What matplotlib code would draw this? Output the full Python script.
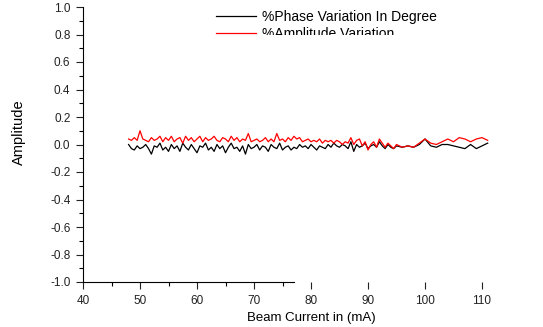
import matplotlib
matplotlib.use('Agg')
import matplotlib.pyplot as plt
from matplotlib.patches import Rectangle

plt.rcParams['font.family'] = ['Liberation Sans', 'DejaVu Sans']
plt.rcParams['axes.unicode_minus'] = False

# beam current (mA): dense sweep 48-95, then coarser steps to 111
current = [48.0, 48.5, 49.0, 49.5, 50.0, 50.5, 51.0, 51.5, 52.0, 52.5,
           53.0, 53.5, 54.0, 54.5, 55.0, 55.5, 56.0, 56.5, 57.0, 57.5,
           58.0, 58.5, 59.0, 59.5, 60.0, 60.5, 61.0, 61.5, 62.0, 62.5,
           63.0, 63.5, 64.0, 64.5, 65.0, 65.5, 66.0, 66.5, 67.0, 67.5,
           68.0, 68.5, 69.0, 69.5, 70.0, 70.5, 71.0, 71.5, 72.0, 72.5,
           73.0, 73.5, 74.0, 74.5, 75.0, 75.5, 76.0, 76.5, 77.0, 77.5,
           78.0, 78.5, 79.0, 79.5, 80.0, 80.5, 81.0, 81.5, 82.0, 82.5,
           83.0, 83.5, 84.0, 84.5, 85.0, 85.5, 86.0, 86.5, 87.0, 87.5,
           88.0, 88.5, 89.0, 89.5, 90.0, 90.5, 91.0, 91.5, 92.0, 92.5,
           93.0, 93.5, 94.0, 94.5, 95.0,
           96, 97, 98, 99, 100, 101, 102, 103, 104, 105, 106, 107, 108, 109, 110, 111]

phase = [0.00, -0.03, -0.04, -0.01, -0.03, -0.02, 0.00, -0.03, -0.07, -0.01,
         -0.02, 0.01, -0.04, -0.02, -0.05, 0.00, -0.03, -0.01, -0.05, 0.01,
         -0.02, -0.04, 0.00, -0.03, -0.06, -0.01, -0.02, 0.01, -0.04, -0.02,
         -0.05, 0.00, -0.03, -0.01, -0.06, -0.02, 0.01, -0.03, -0.02, -0.05,
         -0.01, -0.07, 0.00, -0.03, -0.02, 0.00, -0.04, -0.01, -0.02, -0.05,
         0.00, -0.02, -0.03, 0.01, -0.04, -0.02, -0.01, -0.04, -0.02, -0.03,
         0.00, -0.02, -0.01, -0.03, 0.00, -0.02, -0.04, -0.01, -0.02, -0.03,
         0.00, -0.02, 0.01, -0.01, -0.02, 0.00, -0.01, -0.03, 0.02, -0.05,
         0.00, -0.02, -0.01, 0.01, -0.03, -0.01, 0.00, -0.02, 0.02, -0.01,
         -0.03, 0.00, -0.02, -0.03, -0.01,
         -0.02, -0.01, -0.02, 0.00, 0.04, -0.01, -0.02, 0.00, 0.00, -0.01,
         -0.02, -0.03, 0.00, -0.03, -0.01, 0.01]

amplitude = [0.04, 0.03, 0.05, 0.03, 0.10, 0.04, 0.03, 0.02, 0.05, 0.03,
             0.04, 0.06, 0.02, 0.05, 0.03, 0.06, 0.02, 0.04, 0.05, 0.01,
             0.06, 0.03, 0.05, 0.02, 0.04, 0.06, 0.02, 0.05, 0.03, 0.04,
             0.06, 0.03, 0.02, 0.05, 0.04, 0.02, 0.06, 0.03, 0.05, 0.02,
             0.04, 0.03, 0.08, 0.02, 0.03, 0.04, 0.02, 0.03, 0.05, 0.02,
             0.04, 0.02, 0.08, 0.03, 0.04, 0.02, 0.05, 0.03, 0.06, 0.04,
             0.05, 0.02, 0.03, 0.04, 0.02, 0.03, 0.02, 0.04, 0.01, 0.03,
             0.02, 0.03, 0.01, 0.03, 0.02, 0.00, 0.02, 0.01, 0.05, 0.00,
             0.03, 0.04, -0.01, 0.02, -0.04, 0.00, 0.02, -0.02, 0.04, 0.01,
             -0.02, 0.01, -0.01, -0.03, 0.00,
             -0.02, -0.01, -0.02, 0.01, 0.04, 0.01, 0.00, 0.02, 0.04, 0.02,
             0.05, 0.04, 0.02, 0.04, 0.05, 0.03]

major_x = [40, 50, 60, 70, 80, 90, 100, 110]
minor_x = [45, 55, 65, 75]
y_ticks = [-1.0, -0.8, -0.6, -0.4, -0.2, 0.0, 0.2, 0.4, 0.6, 0.8, 1.0]

W, H = 543, 327
fig = plt.figure(figsize=(W / 100, H / 100), dpi=100)
ax = fig.add_axes([83 / W, 1 - 282 / H, (539 - 83) / W, (282 - 7) / H])

ax.plot(current, phase, color='black', lw=0.9, label='%Phase Variation In Degree')
ax.plot(current, amplitude, color='red', lw=0.9, label='%Amplitude Variation')

ax.set_xlim(40, 120)
ax.set_ylim(-1.0, 1.0)
ax.set_yticks(y_ticks)
ax.set_yticklabels(['%.1f' % v for v in y_ticks])
ax.set_yticks([v / 10 for v in range(-9, 10, 2)], minor=True)
ax.set_xticks(major_x)
ax.set_xticks(minor_x, minor=True)

for s in ['top', 'right']:
    ax.spines[s].set_visible(False)
ax.spines['bottom'].set_bounds(40, 77)
ax.spines['left'].set_linewidth(0.8)
ax.spines['bottom'].set_linewidth(0.8)

ax.tick_params(axis='both', which='major', direction='out', length=5, width=0.8,
               labelsize=8.5, pad=4, colors='#222222')
ax.tick_params(axis='both', which='minor', direction='out', length=3, width=0.8)
for t in ax.xaxis.get_major_ticks():
    if t.get_loc() > 80:
        t.tick1line.set_visible(False)

ax.set_xlabel('Beam Current in (mA)', fontsize=9.5, labelpad=4)
fig.text(19 / W, 1 - 132 / H, 'Amplitude', rotation=90, fontsize=10.5,
         ha='center', va='center')

ax.legend(loc='upper left', bbox_to_anchor=(216 / W, 1 - 10 / H),
          bbox_transform=fig.transFigure, frameon=False, fontsize=10,
          handlelength=2.9, handletextpad=0.4, labelspacing=0.2,
          borderpad=0, borderaxespad=0)

# lower half of the second legend entry is masked in the original
fig.add_artist(Rectangle((258 / W, 1 - 47 / H), 190 / W, 12 / H,
                         transform=fig.transFigure, facecolor='white',
                         edgecolor='none', zorder=10))

fig.savefig('out.png', dpi=100)
